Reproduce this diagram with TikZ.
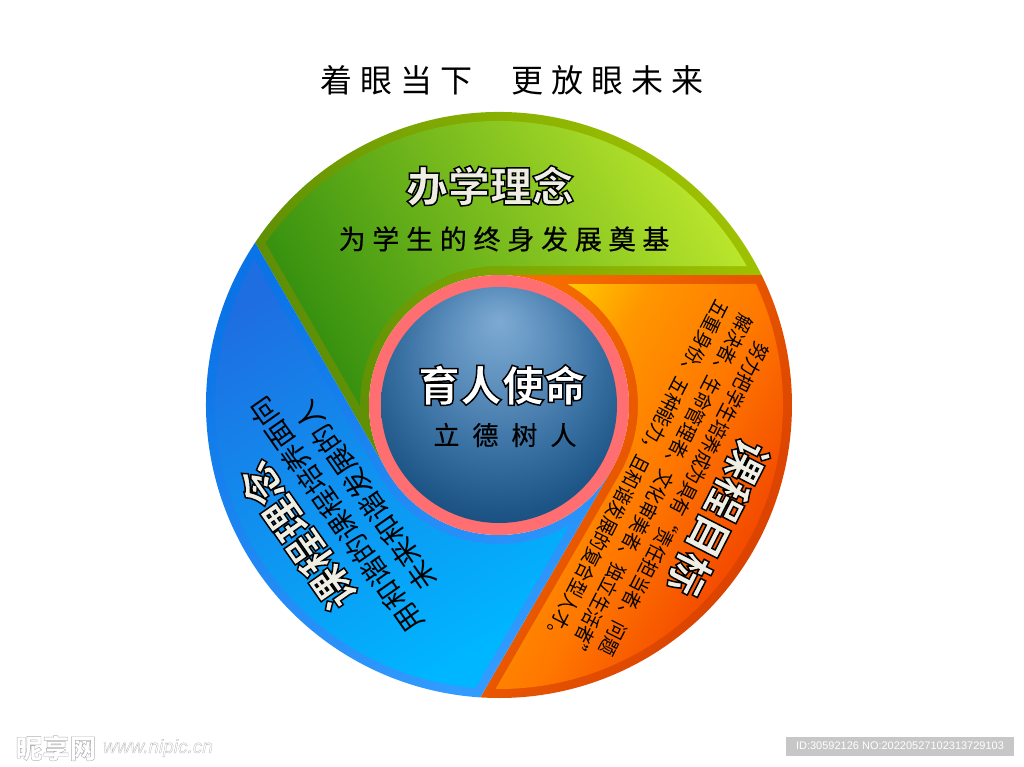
\documentclass[tikz,border=0pt]{standalone}
\usepackage{fontspec}
\setmainfont{Noto Sans CJK SC}
\newfontfamily\idfont{Liberation Sans}
\usetikzlibrary{calc}
\definecolor{ringpink}{RGB}{255,110,112}
\definecolor{headwhite}{RGB}{238,238,228}
\definecolor{sphereA}{RGB}{125,170,212}
\definecolor{sphereB}{RGB}{95,145,190}
\definecolor{sphereC}{RGB}{60,115,165}
\definecolor{sphereD}{RGB}{30,85,135}
\definecolor{sphereE}{RGB}{8,45,95}
\definecolor{orangeA}{RGB}{255,215,0}
\definecolor{orangeB}{RGB}{255,150,0}
\definecolor{orangeC}{RGB}{255,120,0}
\definecolor{orangeD}{RGB}{242,70,0}
\pgfdeclareradialshading{spherefill}{\pgfpoint{0bp}{18bp}}{%
	color(0bp)=(sphereA);
	color(10bp)=(sphereB);
	color(20bp)=(sphereC);
	color(30bp)=(sphereD);
	color(43bp)=(sphereE);
	color(50bp)=(sphereE)}
\pgfdeclarehorizontalshading{orangeshade}{100bp}{%
	color(0bp)=(orangeA);
	color(22bp)=(orangeA);
	color(36bp)=(orangeB);
	color(52bp)=(orangeC);
	color(70bp)=(orangeD);
	color(100bp)=(orangeD)}
\newcommand{\headtext}[2]{\textcolor{#1}{\special{pdf:code 0 0 0 RG}\addfontfeature{FakeBold=3.5}#2}}
\newcommand{\marktext}[1]{\textcolor{white}{\special{pdf:code 0.7 0.7 0.7 RG}\addfontfeature{FakeBold=1.5}#1}}
\newcommand{\squeezed}[1]{\scalebox{0.87}[1]{#1}}
\begin{document}
\begin{tikzpicture}[x=1pt,y=1pt,
	greenband/.style={bottom color={rgb,255:red,90;green,140;blue,5},top color={rgb,255:red,160;green,195;blue,0},shading angle=-60},
	greenfill/.style={bottom color={rgb,255:red,55;green,145;blue,15},middle color={rgb,255:red,125;green,195;blue,30},top color={rgb,255:red,190;green,232;blue,45},shading angle=-60},
	orangeband/.style={bottom color={rgb,255:red,245;green,108;blue,0},top color={rgb,255:red,215;green,60;blue,0},shading angle=-121},
	orangefill/.style={shading=orangeshade,shading angle=-31},
	blueband/.style={bottom color={rgb,255:red,10;green,115;blue,230},top color={rgb,255:red,50;green,155;blue,255},shading angle=-150},
	bluefill/.style={bottom color={rgb,255:red,30;green,110;blue,225},middle color={rgb,255:red,28;green,142;blue,255},top color={rgb,255:red,0;green,182;blue,255},shading angle=-150},
	maintitle/.style={font=\fontsize{32}{36}\selectfont\addfontfeature{LetterSpace=25}},
	bighead/.style={font=\fontsize{42}{46}\selectfont\bfseries},
	subtitle/.style={font=\fontsize{27}{30}\selectfont\addfontfeature{LetterSpace=25,FakeBold=0.5}},
	orangeline/.style={rotate=-117,font=\fontsize{20}{22}\selectfont},
	blueline/.style={rotate=125,font=\fontsize{28}{30}\selectfont}]
	\useasboundingbox (-499,-361) rectangle (525,405);
	\foreach \turn/\bandstyle/\fillstyle in {0/greenband/greenfill,-120/orangeband/orangefill,120/blueband/bluefill}{
		\shade[\bandstyle] ({\turn+26.34}:293) arc[start angle=\turn+26.34,end angle=\turn+146.34,radius=293] -- ({\turn+210}:130) arc[start angle=\turn+210,end angle=\turn+90,radius=130] -- cycle;
		\shade[\fillstyle] ({\turn+29.3}:284) arc[start angle=\turn+29.3,end angle=\turn+145.22,radius=284] -- ({\turn+180.5}:139) arc[start angle=\turn+180.5,end angle=\turn+90,radius=139] -- cycle;
	}
	\fill[ringpink] (0,0) circle[radius=130];
	\shade[shading=spherefill] (0,0) circle[radius=118];
	\node[maintitle] (title) at (13,325) {着眼当下\hspace{39pt}更放眼未来};
	\node[bighead] (greenhead) at (-9,219) {\headtext{headwhite}{办学理念}};
	\node[subtitle] (greensub) at (5,166) {为学生的终身发展奠基};
	\node[bighead] (corehead) at (3,20) {\headtext{white}{育人使命}};
	\node[font=\fontsize{26}{30}\selectfont\addfontfeature{LetterSpace=50,FakeBold=0.5},text=black] (coresub) at (6,-30) {立德树人};
	\node[bighead,rotate=-117] (orangehead) at (219,-113) {\headtext{headwhite}{课程目标}};
	\node[orangeline] (orangeone) at (185,-94) {\squeezed{努力把学生培养成为具有“责任担当者、问题}};
	\node[orangeline] (orangetwo) at (161,-82) {\squeezed{解决者、生命管理者、文化审美者、独立生活者”}};
	\node[orangeline] (orangethree) at (137,-67) {\squeezed{五重身份、五种能力，且和谐发展的复合型人才。}};
	\node[bighead,rotate=125] (bluehead) at (-202,-131) {\headtext{headwhite}{课程理念}};
	\node[blueline] (blueone) at (-163,-110) {用和谐的课程培养面向};
	\node[blueline] (bluetwo) at (-133.5,-91) {未来和谐发展的人};
	\node[font=\fontsize{27}{30}\selectfont\bfseries] (markname) at (-443,-343) {\marktext{昵享网}};
	\node[font=\fontsize{19}{22}\selectfont\itshape\idfont] (markweb) at (-341,-343) {\marktext{www.nipic.cn}};
	\node[fill=black!22,text=white,minimum width=228,minimum height=19,inner sep=0pt,font=\fontsize{11}{13}\selectfont\idfont] (idbox) at (401,-341) {ID:30592126 NO:20220527102313729103};
\end{tikzpicture}
\end{document}
